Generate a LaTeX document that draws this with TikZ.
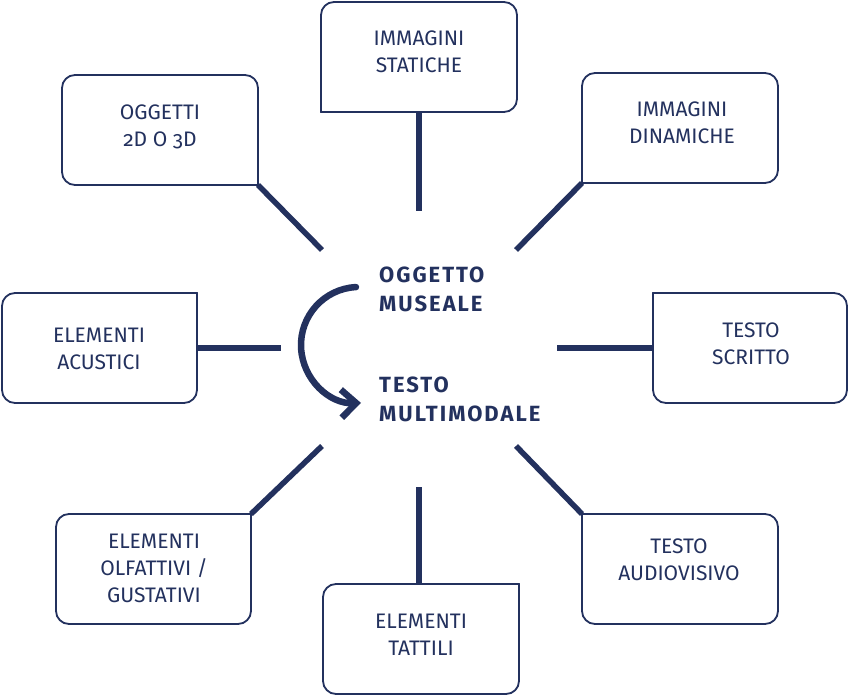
\documentclass[tikz,border=0pt]{standalone}
\usepackage{fontspec}
\setmainfont{Fira Sans}[Numbers=OldStyle]
\newfontfamily\hubfont{Fira Sans}[LetterSpace=9]
\usetikzlibrary{arrows.meta}
\definecolor{navy}{RGB}{35,49,94}
% x1 ytop x2 ybottom rTL rTR rBR rBL  (pixel units, y downwards)
\newcommand\rbox[8]{%
  \draw[boxline] ({#1+#5},{696-#2}) -- ({#3-#6},{696-#2})
    arc[start angle=90,end angle=0,radius=#6] -- ({#3},{696-#4+#7})
    arc[start angle=0,end angle=-90,radius=#7] -- ({#1+#8},{696-#4})
    arc[start angle=-90,end angle=-180,radius=#8] -- ({#1},{696-#2-#5})
    arc[start angle=180,end angle=90,radius=#5] -- cycle;}
\begin{document}
\begin{tikzpicture}[x=1pt,y=1pt,
  boxline/.style={draw=navy,line width=1.8pt,line join=miter},
  conn/.style={draw=navy,line width=5.5pt},
  lbl/.style={text=navy,align=center,inner sep=0pt,font=\fontsize{21}{27}\selectfont},
  hub/.style={text=navy,align=left,inner sep=0pt,anchor=west,font=\hubfont\bfseries\fontsize{22}{29}\selectfont},
  turn/.style={draw=navy,line width=6.5pt,line cap=round,-{Straight Barb[length=15pt,width=28pt]}}]
\fill[white] (0,0) rectangle (848,696);
\useasboundingbox (0,0) rectangle (848,696);

% boxes
\rbox{321}{2}{517}{112}{13}{13}{13}{0.01}
\rbox{62}{75}{258}{185}{13}{13}{0.01}{13}
\rbox{582}{73}{778}{183}{13}{13}{13}{0.01}
\rbox{2}{293}{197}{403}{13}{0.01}{13}{13}
\rbox{653}{293}{847}{403}{0.01}{13}{13}{13}
\rbox{56}{514}{251}{624}{13}{0.01}{13}{13}
\rbox{323}{584}{519}{694}{13}{0.01}{13}{13}
\rbox{582}{514}{778}{624}{0.01}{13}{13}{13}

% labels
\node[lbl] (stat) at (419,{696-51.7}) {IMMAGINI\\STATICHE};
\node[lbl] (obj)  at (160,{696-127})  {OGGETTI\\2D O 3D};
\node[lbl] (din)  at (682,{696-122.5}) {IMMAGINI\\DINAMICHE};
\node[lbl] (acu)  at (99,{696-349})   {ELEMENTI\\ACUSTICI};
\node[lbl] (scr)  at (751,{696-344})  {TESTO\\SCRITTO};
\node[lbl] (olf)  at (154,{696-568.5}) {ELEMENTI\\OLFATTIVI /\\GUSTATIVI};
\node[lbl] (tat)  at (421,{696-635})  {ELEMENTI\\TATTILI};
\node[lbl] (aud)  at (679,{696-560})  {TESTO\\AUDIOVISIVO};

% centre
\node[hub] (mus) at (379,{696-289}) {OGGETTO\\MUSEALE};
\node[hub] (mul) at (379,{696-399}) {TESTO\\MULTIMODALE};

% connector end points
\coordinate (statE) at (419,{696-112});  \coordinate (statH) at (419,{696-211});
\coordinate (objE)  at (258,{696-185});  \coordinate (objH)  at (322,{696-250});
\coordinate (dinE)  at (582,{696-183});  \coordinate (dinH)  at (516,{696-250});
\coordinate (acuE)  at (197,{696-348});  \coordinate (acuH)  at (281,{696-348});
\coordinate (scrE)  at (653,{696-348});  \coordinate (scrH)  at (557,{696-348});
\coordinate (olfE)  at (251,{696-514});  \coordinate (olfH)  at (322,{696-446});
\coordinate (tatE)  at (419,{696-584});  \coordinate (tatH)  at (419,{696-487});
\coordinate (audE)  at (582,{696-514});  \coordinate (audH)  at (516,{696-446});

\draw[conn] (statE) -- (statH);
\draw[conn] (objE) -- (objH);
\draw[conn] (dinE) -- (dinH);
\draw[conn] (acuE) -- (acuH);
\draw[conn] (scrE) -- (scrH);
\draw[conn] (olfE) -- (olfH);
\draw[conn] (tatE) -- (tatH);
\draw[conn] (audE) -- (audH);

% turning arrow
\coordinate (arcC) at (359,{696-345});
\draw[turn] ([shift={(93:58)}]arcC) arc[start angle=93,end angle=272,radius=58];
\end{tikzpicture}
\end{document}
